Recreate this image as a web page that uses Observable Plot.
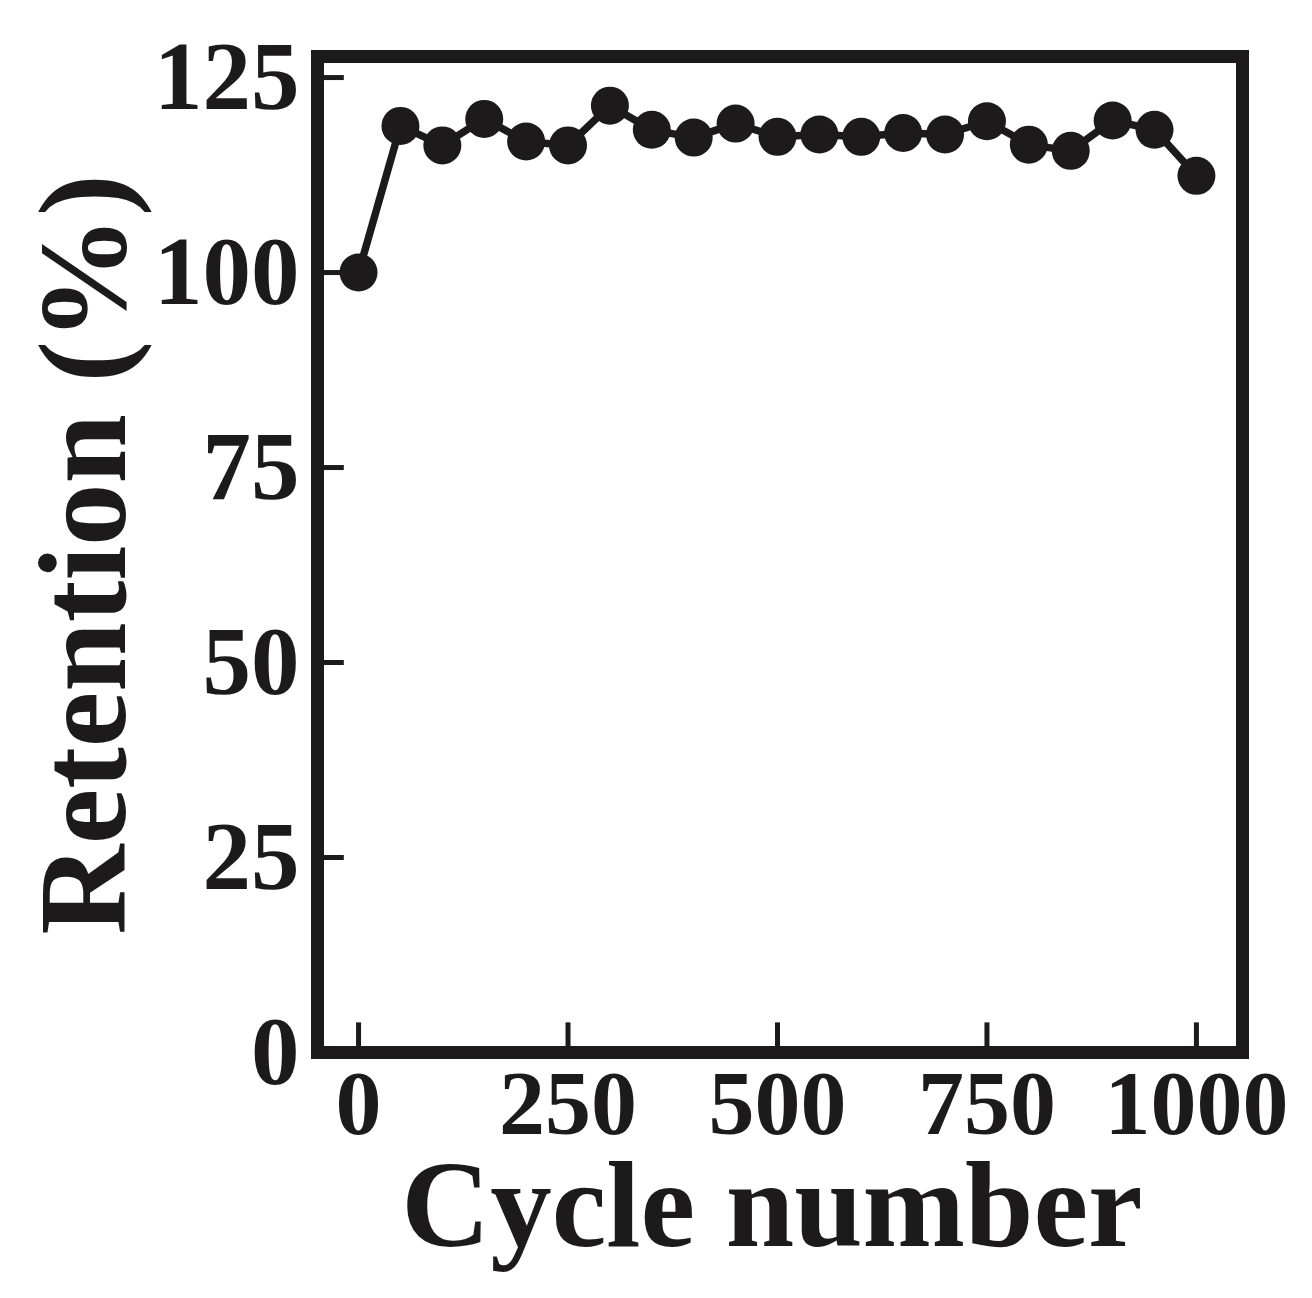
<!DOCTYPE html>
<html>
<head>
<meta charset="utf-8">
<script src="https://cdn.jsdelivr.net/npm/d3@7"></script>
<script src="https://cdn.jsdelivr.net/npm/@observablehq/plot@0.6"></script>
<style>
  html, body { margin: 0; padding: 0; background: #fff; }
</style>
</head>
<body>
<div id="chart"></div>
<script>
const cycles = [0, 50, 100, 150, 200, 250, 300, 350, 400, 450, 500, 550, 600, 650, 700, 750, 800, 850, 900, 950, 1000];
const retention = [100, 118.8, 116.3, 119.7, 116.8, 116.3, 121.4, 118.3, 117.3, 119.1, 117.4, 117.7, 117.4, 117.9, 117.7, 119.4, 116.4, 115.6, 119.5, 118.3, 112.4];
const xTicks = [0, 250, 500, 750, 1000];
const yTicks = [0, 25, 50, 75, 100, 125];
const xLabel = "Cycle number";
const yLabel = "Retention (%)";

const data = cycles.map((c, i) => ({cycle: c, retention: retention[i]}));
const ink = "#1c1a1a";
const serif = "'Liberation Serif', 'Times New Roman', serif";
const xDomain = [-49, 1055];
const yDomain = [0, 127.7];

const chart = Plot.plot({
  width: 1312,
  height: 1298,
  marginLeft: 317,
  marginRight: 70,
  marginTop: 56,
  marginBottom: 246,
  x: {domain: xDomain},
  y: {domain: yDomain},
  style: {fontFamily: serif, color: ink, background: "#fff"},
  marks: [
    // inward tick marks
    Plot.ruleY(yTicks, {y: d => d, x1: xDomain[0], x2: xDomain[0] + 32, stroke: ink, strokeWidth: 5}),
    Plot.ruleX(xTicks, {x: d => d, y1: yDomain[0], y2: yDomain[0] + 3.8, stroke: ink, strokeWidth: 5}),
    Plot.axisY({ticks: yTicks, tickFormat: d => String(d), tickSize: 0, tickPadding: 18, fontSize: 97, fontWeight: "bold", fill: ink, label: null}),
    Plot.axisX({ticks: xTicks, tickFormat: d => String(d), tickSize: 0, tickPadding: 16, fontSize: 92, fontWeight: "bold", fill: ink, label: null}),
    Plot.line(data, {x: "cycle", y: "retention", stroke: ink, strokeWidth: 7.5}),
    Plot.dot(data, {x: "cycle", y: "retention", r: 19, fill: ink, stroke: "none"}),
    Plot.frame({stroke: ink, strokeWidth: 13}),
    Plot.text([xLabel], {frameAnchor: "bottom", textAnchor: "middle", dx: -8, dy: 154, fontSize: 123, fontWeight: "bold", fill: ink, lineAnchor: "middle"}),
    Plot.text([yLabel], {frameAnchor: "left", textAnchor: "middle", rotate: -90, dx: -233, fontSize: 125, fontWeight: "bold", fill: ink, lineAnchor: "middle"})
  ]
});
document.getElementById("chart").appendChild(chart);
</script>
</body>
</html>
